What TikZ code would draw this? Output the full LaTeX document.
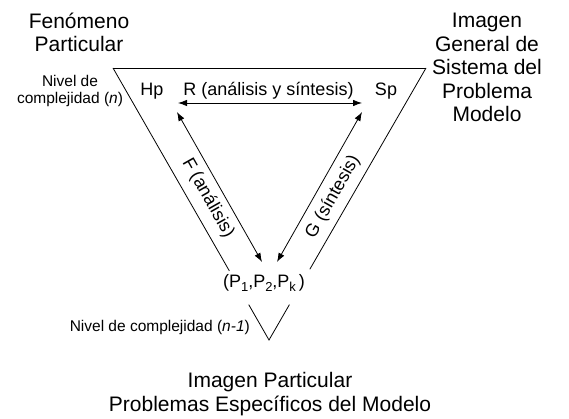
\documentclass[tikz,border=0pt]{standalone}
\usepackage{fontspec}
\setmainfont{Liberation Sans}
\usetikzlibrary{arrows.meta,calc}
\newcommand{\subsc}[1]{\raisebox{-4.5pt}{\fontsize{13}{13}\selectfont #1}}
\begin{document}
\begin{tikzpicture}[x=1pt,y=1pt,
  big/.style={font=\fontsize{21}{23.5}\selectfont,align=center,inner sep=0pt},
  med/.style={font=\fontsize{18}{20}\selectfont,inner sep=0pt},
  small/.style={font=\fontsize{15.5}{17}\selectfont,align=center,inner sep=0pt},
  edge/.style={line width=0.8pt},
  dbl/.style={line width=0.8pt,{Latex[length=9pt,width=6.5pt]}-{Latex[length=9pt,width=6.5pt]}}]
\useasboundingbox (0,0) rectangle (569,418);
% triangle
\coordinate (TL) at (113,350);
\coordinate (TR) at (426,350);
\coordinate (A) at (269,78);
\draw[edge] (TL) -- (TR);
\draw[edge] (TL) -- ($(TL)!0.746!(A)$);
\draw[edge] (TR) -- ($(TR)!0.74!(A)$);
\draw[edge] ($(TL)!0.87!(A)$) -- (A) -- ($(TR)!0.87!(A)$);
% nodes
\node[med,anchor=base] (hp) at (152,322) {Hp};
\node[med,anchor=base] (sp) at (386,322) {Sp};
\node[med,anchor=base] (r) at (268.5,322) {R (análisis y síntesis)};
\node[med,anchor=base] (p) at (264,131) {(P\subsc{1},P\subsc{2},P\subsc{k}\,)};
% arrow ends
\coordinate (h1) at (178,315);
\coordinate (h2) at (362,315);
\coordinate (f1) at (177,306);
\coordinate (f2) at (262,156);
\coordinate (g1) at (362,306);
\coordinate (g2) at (277,156);
\draw[dbl] (h1) -- (h2);
\draw[dbl] (f1) -- (f2);
\draw[dbl] (g1) -- (g2);
\node[med,rotate=-60.5] (fl) at (208,220) {F (análisis)};
\node[med,rotate=60.5] (gl) at (333,221) {G (síntesis)};
% texts (base anchor = last line baseline)
\node[big,anchor=base] (fen) at (79,366) {Fenómeno\\Particular};
\node[big,anchor=base] (img) at (487,296) {Imagen\\General de\\Sistema del\\Problema\\Modelo};
\node[big,anchor=base] (bot) at (270,7) {Imagen Particular\\Problemas Específicos del Modelo};
\node[small,anchor=base] (niv) at (70,314) {Nivel de\\complejidad (\textit{n})};
\node[small,anchor=base east] (niv2) at (250,87) {Nivel de complejidad (\textit{n-1})};
\end{tikzpicture}
\end{document}
